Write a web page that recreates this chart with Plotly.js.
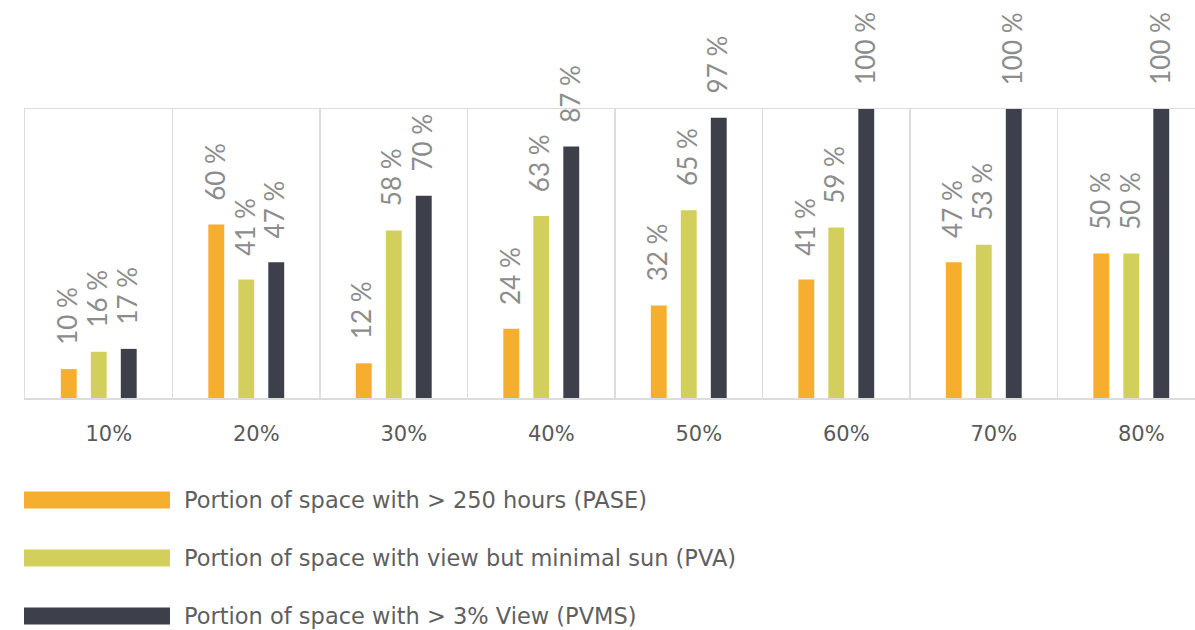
<!DOCTYPE html>
<html>
<head>
<meta charset="utf-8">
<script src="https://cdn.plot.ly/plotly-3.0.1.min.js"></script>
<style>html,body{margin:0;padding:0;overflow:hidden;background:#fff}</style>
</head>
<body>
<div id="chart" style="width:1195px;height:630px"></div>
<script>
const categories = ['10%', '20%', '30%', '40%', '50%', '60%', '70%', '80%'];
const pase = [10, 60, 12, 24, 32, 41, 47, 50];
const pva = [16, 41, 58, 63, 65, 59, 53, 50];
const pvms = [17, 47, 70, 87, 97, 100, 100, 100];
const seriesNames = [
  'Portion of space with > 250 hours (PASE)',
  'Portion of space with view but minimal sun (PVA)',
  'Portion of space with > 3% View (PVMS)'
];
const seriesValues = [pase, pva, pvms];
const colors = ['#F6AE2F', '#D3CF5C', '#3D3F4B'];

const W = 1195, H = 630;
const M = {l: 25, r: 0, t: 109, b: 232};
const plotW = W - M.l - M.r, plotH = H - M.t - M.b;
const px2x = p => (p - M.l) / plotW;
const px2y = p => (H - M.b - p) / plotH;

const traces = seriesValues.map((vals, i) => ({
  type: 'bar',
  name: seriesNames[i],
  x: categories,
  y: vals,
  marker: {color: colors[i]},
  showlegend: false,
  hoverinfo: 'x+y'
}));

const annotations = [];
seriesValues.forEach((vals, i) => {
  vals.forEach((v, j) => {
    annotations.push({
      x: categories[j], y: v, xref: 'x', yref: 'y',
      text: v + ' %', textangle: -90,
      xanchor: 'center', yanchor: 'bottom',
      xshift: (i - 1) * 30 - 2, yshift: 22,
      showarrow: false,
      font: {family: 'Lato, sans-serif', size: 26, color: '#8C8C8C'}
    });
  });
});

const shapes = [];
const legendRows = [500, 558, 616];
seriesNames.forEach((name, i) => {
  const cy = legendRows[i];
  shapes.push({
    type: 'rect', xref: 'paper', yref: 'paper',
    x0: px2x(24), x1: px2x(170), y0: px2y(cy - 8.5), y1: px2y(cy + 8.5),
    fillcolor: colors[i], line: {width: 0}
  });
  annotations.push({
    xref: 'paper', yref: 'paper', x: px2x(182), y: px2y(cy),
    xanchor: 'left', yanchor: 'middle', showarrow: false,
    text: name,
    font: {family: 'DejaVu Sans, sans-serif', size: 22.5, color: '#5F5F5F'}
  });
});

const layout = {
  width: W, height: H,
  margin: M,
  paper_bgcolor: '#ffffff', plot_bgcolor: '#ffffff',
  barmode: 'group', bargap: 0.39, bargroupgap: 0.47,
  showlegend: false,
  xaxis: {
    type: 'category',
    range: [-0.5, 7.432],
    tickson: 'boundaries',
    showgrid: true, gridcolor: '#DCDCDC', gridwidth: 1.5,
    showline: true, linecolor: '#DCDCDC', linewidth: 1.5, mirror: true,
    ticks: '',
    ticklabelshift: 10, ticklabelstandoff: 16,
    tickfont: {family: 'DejaVu Sans, sans-serif', size: 21, color: '#595959'},
    fixedrange: true
  },
  yaxis: {
    range: [0, 100],
    showgrid: false, zeroline: false,
    showline: true, linecolor: '#DCDCDC', linewidth: 1.5,
    showticklabels: false, ticks: '',
    fixedrange: true
  },
  annotations: annotations,
  shapes: shapes
};

Plotly.newPlot('chart', traces, layout, {displayModeBar: false, staticPlot: true});
</script>
</body>
</html>
